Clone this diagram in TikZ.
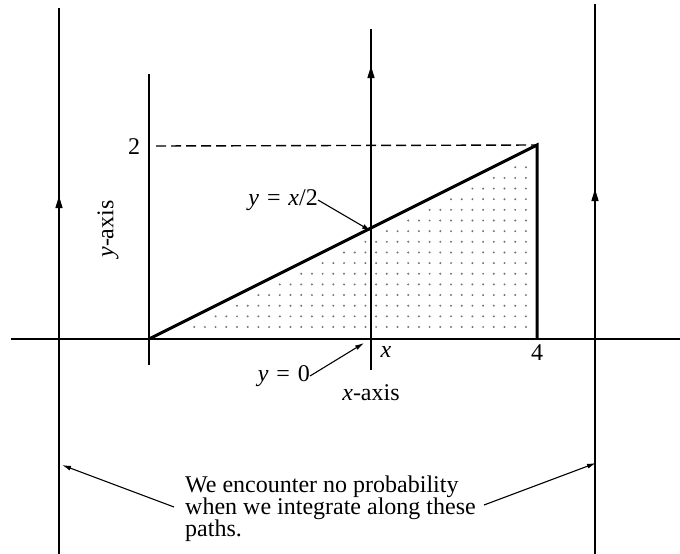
\documentclass[tikz,border=0pt]{standalone}
\usepackage{fontspec}
\setmainfont{Liberation Serif}
\usetikzlibrary{arrows.meta}
\begin{document}
\begin{tikzpicture}[x=1pt,y=-1pt,
  thinline/.style={line width=1.4pt},
  thickline/.style={line width=3pt},
  pathtip/.style={-{Triangle[length=12pt,width=7pt]}},
  labeltip/.style={line width=1.1pt,-{Latex[length=9pt,width=5pt]}},
  lbl/.style={font=\fontsize{24}{22}\selectfont,inner sep=0pt}]
\useasboundingbox (0,0) rectangle (680,554);
% dotted region
\foreach \i in {-17,...,17}{
  \foreach \j in {0,...,18}{
    \pgfmathsetmacro\px{344+10.7*\i}
    \pgfmathsetmacro\py{327-10.65*\j}
    \pgfmathtruncatemacro\ok{(\py > 339-(\px-149)*0.5013+7) && (\px<530)}
    \ifnum\ok=1 \fill[black!55] (\px,\py) circle (1.1pt);\fi
  }
}
% coordinates
\coordinate (L0) at (59,554); \coordinate (Lm) at (59,196); \coordinate (L1) at (59,8);
\coordinate (R0) at (595,554); \coordinate (Rm) at (595,189); \coordinate (R1) at (595,4);
\coordinate (M0) at (371,370); \coordinate (Mm) at (371,66); \coordinate (M1) at (371,29);
\coordinate (Y0) at (149,365); \coordinate (Y1) at (149,74);
\coordinate (X0) at (11,339); \coordinate (X1) at (680,339);
\coordinate (O) at (149,339); \coordinate (A) at (537,145); \coordinate (B) at (537,339);
\coordinate (D0) at (156,146); \coordinate (P) at (371,231); \coordinate (Q) at (364,343);
\coordinate (Lt) at (62,465); \coordinate (Rt) at (596,463);
% axes and paths
\draw[thinline] (X0) -- (X1);
\draw[thinline] (Y0) -- (Y1);
\draw[thinline] (L0) -- (L1);
\draw[thinline,pathtip] (L0) -- (Lm);
\draw[thinline] (R0) -- (R1);
\draw[thinline,pathtip] (R0) -- (Rm);
\draw[thinline] (M0) -- (M1);
\draw[thinline,pathtip] (M0) -- (Mm);
\draw[thinline,dash pattern=on 10pt off 5pt] (D0) -- (A);
\draw[thickline,line join=miter] (O) -- (A) -- (B);
% labels
\node[lbl] (two) at (134,147) {2};
\node[lbl] (four) at (537,353) {4};
\node[lbl] (xl) at (386,352) {\itshape x};
\node[lbl] (xaxis) at (371,393) {\textit{x}-axis};
\node[lbl,rotate=90] (yaxis) at (108,229) {\textit{y}-axis};
\node[lbl,anchor=east] (yx) at (318,200) {\textit{y}\hspace{0.33em}=\hspace{0.33em}\textit{x}/2};
\node[lbl,anchor=east] (y0) at (310,376) {\textit{y}\hspace{0.33em}=\hspace{0.33em}0};
\draw[labeltip] (yx.east) -- (P);
\draw[labeltip] (y0.east) -- (Q);
\node[lbl,anchor=north west,align=left] (note) at (185,476)
  {We encounter no probability\\when we integrate along these\\paths.};
\draw[labeltip] (174,507) -- (Lt);
\draw[labeltip] (484,505) -- (Rt);
\end{tikzpicture}
\end{document}
